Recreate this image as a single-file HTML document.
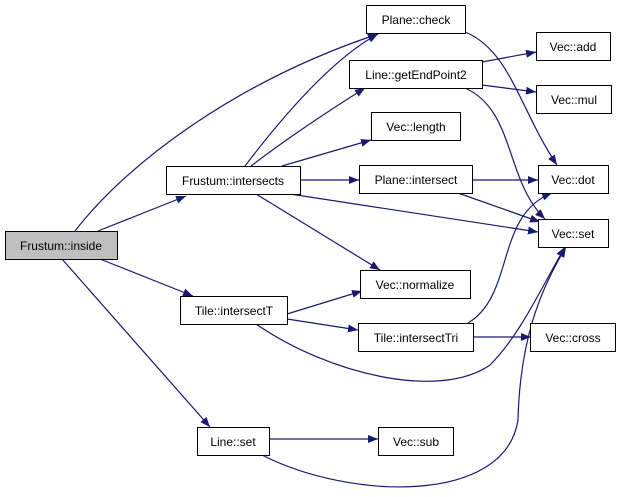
<!DOCTYPE html>
<html><head><style>
body{margin:0;background:#fff;}
svg{display:block}
text{font-family:"Liberation Sans",sans-serif;font-size:12px;fill:#000}
</style></head><body>
<svg width="621" height="497" viewBox="0 0 621 497" xmlns="http://www.w3.org/2000/svg">
<defs>
<marker id="a" markerWidth="10" markerHeight="8" refX="10" refY="4" orient="auto" markerUnits="userSpaceOnUse">
<path d="M0,0 L10,4 L0,8 z" fill="#191970"/>
</marker>
</defs>
<g fill="none" stroke="#191970" stroke-width="1.2" marker-end="url(#a)">
<path d="M98,231 L186,196"/>
<path d="M75,231 C130,160 240,80 378,34"/>
<path d="M100,259 L193,296"/>
<path d="M62,259 L210,427"/>
<path d="M245,166 C280,120 330,60 378,34"/>
<path d="M251,166 C285,140 330,110 365,88"/>
<path d="M282,166 L371,140"/>
<path d="M300,180 L359,180"/>
<path d="M290,194 L538,232"/>
<path d="M256,194 L380,270"/>
<path d="M465,32 C510,50 520,110 557,165"/>
<path d="M482,62 L536,52"/>
<path d="M482,85 L536,92"/>
<path d="M465,88 C515,110 505,180 545,219"/>
<path d="M472,180 L538,180"/>
<path d="M458,193 L540,222"/>
<path d="M287,314 L362,291"/>
<path d="M287,319 L358,330"/>
<path d="M256,324 C330,375 440,400 490,365 C520,335 540,290 565,247"/>
<path d="M468,323 C515,295 495,215 552,193"/>
<path d="M473,337 L531,337"/>
<path d="M269,439 L378,439"/>
<path d="M262,455 C350,500 505,505 518,420 C520,340 540,290 566,247"/>
</g>
<g stroke="#000" stroke-width="1" fill="#fff">
<rect x="5.5" y="231.5" width="112" height="28" fill="#bfbfbf"/>
<rect x="166.5" y="166.5" width="134" height="28"/>
<rect x="366.5" y="5.5" width="99" height="28"/>
<rect x="349.5" y="60.5" width="133" height="28"/>
<rect x="371.5" y="112.5" width="89" height="28"/>
<rect x="359.5" y="165.5" width="113" height="28"/>
<rect x="536.5" y="32.5" width="74" height="28"/>
<rect x="536.5" y="85.5" width="75" height="28"/>
<rect x="538.5" y="165.5" width="70" height="28"/>
<rect x="538.5" y="219.5" width="70" height="28"/>
<rect x="360.5" y="270.5" width="110" height="28"/>
<rect x="180.5" y="296.5" width="107" height="28"/>
<rect x="358.5" y="323.5" width="115" height="28"/>
<rect x="530.5" y="323.5" width="85" height="28"/>
<rect x="197.5" y="427.5" width="72" height="28"/>
<rect x="378.5" y="427.5" width="75" height="28"/>
</g>
<g text-anchor="middle">
<text x="61" y="250">Frustum::inside</text>
<text x="233" y="185">Frustum::intersects</text>
<text x="416" y="24">Plane::check</text>
<text x="416" y="79">Line::getEndPoint2</text>
<text x="416" y="131">Vec::length</text>
<text x="416" y="184">Plane::intersect</text>
<text x="573" y="51">Vec::add</text>
<text x="574" y="104">Vec::mul</text>
<text x="573" y="184">Vec::dot</text>
<text x="573" y="238">Vec::set</text>
<text x="415" y="289">Vec::normalize</text>
<text x="234" y="315">Tile::intersectT</text>
<text x="416" y="342">Tile::intersectTri</text>
<text x="573" y="342">Vec::cross</text>
<text x="233" y="446">Line::set</text>
<text x="416" y="446">Vec::sub</text>
</g>
</svg>
</body></html>
